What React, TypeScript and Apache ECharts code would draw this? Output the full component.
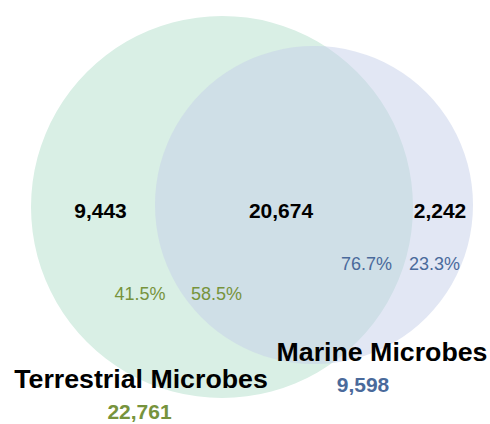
import React, { useEffect, useRef } from "react";
import * as echarts from "echarts";

// ---- data ----
const SET_NAMES = ["Terrestrial Microbes", "Marine Microbes"];
const SET_TOTALS = [22761, 9598];
const REGION_COUNTS = [9443, 20674, 2242]; // terrestrial only, shared, marine only
const TERRESTRIAL_PCT = [41.5, 58.5]; // only, shared
const MARINE_PCT = [76.7, 23.3]; // shared, only

// ---- layout (pixel-space axis units) ----
const CIRCLES = [
  { cx: 222, cy: 207, r: 191, fill: "#d9efe5" },
  { cx: 314, cy: 205, r: 159, fill: "rgba(198,207,234,0.5)" },
];
const GREEN = "#77933C";
const BLUE = "#4A6A9B";
const FONT = "'Liberation Sans', Arial, sans-serif";

const fmt = (n: number) => n.toLocaleString("en-US");
const pct = (n: number) => n.toFixed(1) + "%";

type Lbl = { text: string; x: number; y: number; size: number; bold: boolean; color: string; sx: number };

const LABELS: Lbl[] = [
  { text: fmt(REGION_COUNTS[0]), x: 100.5, y: 211, size: 20, bold: true, color: "#000", sx: 1.05 },
  { text: fmt(REGION_COUNTS[1]), x: 281, y: 211, size: 20, bold: true, color: "#000", sx: 1.05 },
  { text: fmt(REGION_COUNTS[2]), x: 440, y: 211, size: 20, bold: true, color: "#000", sx: 1.05 },
  { text: pct(TERRESTRIAL_PCT[0]), x: 140, y: 294, size: 18, bold: false, color: GREEN, sx: 1 },
  { text: pct(TERRESTRIAL_PCT[1]), x: 216.5, y: 294, size: 18, bold: false, color: GREEN, sx: 1 },
  { text: pct(MARINE_PCT[0]), x: 366.5, y: 264, size: 18, bold: false, color: BLUE, sx: 1 },
  { text: pct(MARINE_PCT[1]), x: 434.5, y: 264, size: 18, bold: false, color: BLUE, sx: 1 },
  { text: SET_NAMES[1], x: 382, y: 352, size: 25, bold: true, color: "#000", sx: 1.07 },
  { text: fmt(SET_TOTALS[1]), x: 363, y: 385, size: 20, bold: true, color: BLUE, sx: 1.05 },
  { text: SET_NAMES[0], x: 141, y: 379, size: 25, bold: true, color: "#000", sx: 1.07 },
  { text: fmt(SET_TOTALS[0]), x: 139.5, y: 412, size: 20, bold: true, color: GREEN, sx: 1.05 },
];

export default function App() {
  const ref = useRef<HTMLDivElement>(null);
  useEffect(() => {
    if (!ref.current) return;
    const chart = echarts.init(ref.current, undefined, { renderer: "svg" });
    chart.setOption({
      animation: false,
      grid: { left: 0, right: 0, top: 0, bottom: 0 },
      xAxis: { type: "value", min: 0, max: 490, show: false },
      yAxis: { type: "value", min: 0, max: 424, inverse: true, show: false },
      series: [
        {
          type: "custom",
          name: "sets",
          data: SET_NAMES.map((name, i) => ({
            name,
            value: [CIRCLES[i].cx, CIRCLES[i].cy, CIRCLES[i].r, i],
          })),
          renderItem: (params: any, api: any) => {
            const c = api.coord([api.value(0), api.value(1)]);
            const r = api.size([api.value(2), 0])[0];
            const i = api.value(3);
            return {
              type: "circle",
              shape: { cx: c[0], cy: c[1], r },
              style: { fill: CIRCLES[i].fill, stroke: "none" },
            };
          },
          silent: true,
          z: 1,
        },
        {
          type: "custom",
          name: "labels",
          data: LABELS.map((l, i) => ({ value: [l.x, l.y, i] })),
          renderItem: (params: any, api: any) => {
            const c = api.coord([api.value(0), api.value(1)]);
            const l = LABELS[api.value(2)];
            return {
              type: "text",
              x: c[0],
              y: c[1],
              scaleX: l.sx,
              style: {
                text: l.text,
                x: 0,
                y: 0,
                align: "center",
                verticalAlign: "middle",
                fill: l.color,
                font: `${l.bold ? "bold " : ""}${l.size}px ${FONT}`,
              },
            };
          },
          silent: true,
          z: 2,
        },
      ],
    });
    return () => chart.dispose();
  }, []);
  return (
    <div
      ref={ref}
      style={{ position: "fixed", left: 0, top: 0, width: 490, height: 424, background: "#fff" }}
    />
  );
}
